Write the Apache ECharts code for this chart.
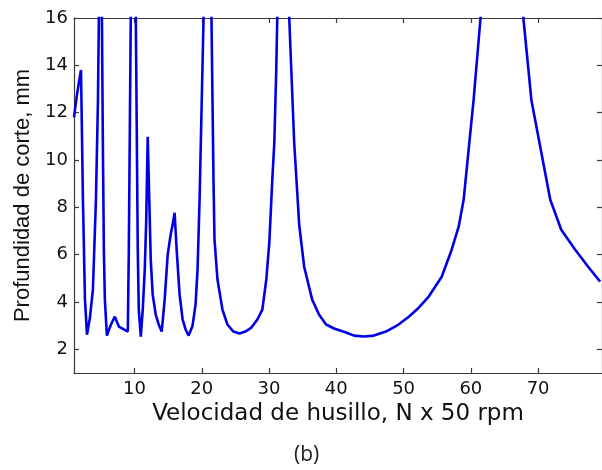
<!DOCTYPE html>
<html>
<head>
<meta charset="utf-8">
<script src="https://cdn.jsdelivr.net/npm/echarts@6/dist/echarts.min.js"></script>
<style>
  html, body { margin: 0; padding: 0; background: #fff; }
  #chart { width: 602px; height: 470px; }
</style>
</head>
<body>
<div id="chart"></div>
<script>
// velocidad de husillo (N x 50 rpm) y profundidad de corte (mm)
var speed = [1.0, 1.44, 1.74, 2.04, 2.33, 2.63, 2.93, 3.37, 3.81, 4.26, 4.56, 4.70, 4.93, 5.15, 5.30, 5.44, 5.59, 5.89,
  6.48, 7.07, 7.67, 8.41, 9.0, 9.15, 9.30, 9.44, 9.81, 10.19, 10.33, 10.48, 10.63, 10.93,
  11.22, 11.52, 11.74, 11.96, 12.19, 12.41, 12.70, 13.15, 13.59, 14.04,
  14.48, 14.93, 15.37, 15.67, 15.96, 16.26, 16.70, 17.15, 17.59, 18.04,
  18.63, 19.07, 19.37, 19.67, 19.96, 20.26, 20.93, 21.44, 21.59, 21.74, 21.89, 22.33, 23.07, 23.81,
  24.70, 25.59, 26.48, 27.37, 28.26, 29.00, 29.59, 30.04, 30.48, 30.78, 31.07, 31.22, 32.11, 33.00,
  33.74, 34.48, 35.22, 36.41, 37.44, 38.48, 39.67, 41.44, 42.63, 44.11, 45.59, 47.37, 49.0, 50.78,
  52.26, 53.74, 55.67, 57.15, 58.19, 58.93, 60.41, 61.44, 64.56, 67.81, 69.0, 71.81, 73.44, 75.52, 77.44, 79.22];
var depth = [11.8, 12.75, 13.3, 13.8, 8.3, 4.1, 2.62, 3.34, 4.52, 8.3, 12.5, 16, 24, 16, 10.4, 6.2, 4.1, 2.58,
  3.04, 3.38, 2.96, 2.84, 2.75, 6.2, 11.3, 16, 21, 16, 11.3, 6.2, 3.68, 2.54,
  3.68, 5.37, 7.48, 10.98, 8.32, 5.79, 4.31, 3.47, 3.05, 2.75,
  4.1, 6.0, 6.84, 7.27, 7.77, 6.21, 4.31, 3.26, 2.84, 2.58,
  3.0, 3.89, 5.37, 8.32, 12.1, 16, 25, 16, 12.54, 9.16, 6.63, 4.95, 3.68, 3.05,
  2.75, 2.67, 2.75, 2.92, 3.26, 3.68, 4.95, 6.51, 9.16, 10.72, 13.8, 16, 29, 16,
  10.72, 7.27, 5.49, 4.1, 3.46, 3.05, 2.88, 2.71, 2.58, 2.54, 2.58, 2.75, 3.0, 3.38,
  3.76, 4.23, 5.07, 6.21, 7.18, 8.32, 12.54, 16, 27, 16, 12.54, 8.32, 7.05, 6.21, 5.49, 4.86];

var xTicks = [10, 20, 30, 40, 50, 60, 70];
var yTicks = [2, 4, 6, 8, 10, 12, 14, 16];

var chart = echarts.init(document.getElementById('chart'), null, {renderer: 'canvas'});

var points = speed.map(function (s, i) { return [s, depth[i]]; });

var axisLineStyle = {color: '#3a3a3a', width: 1.2};
var tickStyle = {color: '#3a3a3a', width: 1.2};

var option = {
  animation: false,
  backgroundColor: '#ffffff',
  grid: {left: 74, top: 18, right: -1, bottom: 97},
  xAxis: [{
    type: 'value', min: 1, max: 79.5, position: 'bottom',
    name: 'Velocidad de husillo, N x 50 rpm', nameLocation: 'middle', nameGap: 21,
    nameTextStyle: {fontFamily: 'DejaVu Sans', fontSize: 23, color: '#111'},
    axisLine: {show: true, onZero: false, lineStyle: axisLineStyle},
    axisTick: {show: true, inside: true, length: 5, lineStyle: tickStyle, customValues: xTicks},
    axisLabel: {show: true, margin: 7, fontFamily: 'DejaVu Sans', fontSize: 18, color: '#111', customValues: xTicks},
    splitLine: {show: false}
  }, {
    type: 'value', min: 1, max: 79.5, position: 'top',
    axisLine: {show: true, onZero: false, lineStyle: axisLineStyle},
    axisTick: {show: true, inside: true, length: 5, lineStyle: tickStyle, customValues: xTicks},
    axisLabel: {show: false},
    splitLine: {show: false}
  }],
  yAxis: [{
    type: 'value', min: 1, max: 16, position: 'left',
    name: 'Profundidad de corte, mm', nameLocation: 'middle', nameGap: 40,
    nameTextStyle: {fontFamily: 'Liberation Sans', fontSize: 22, color: '#111'},
    axisLine: {show: true, onZero: false, lineStyle: axisLineStyle},
    axisTick: {show: true, inside: true, length: 5, lineStyle: tickStyle, customValues: yTicks},
    axisLabel: {show: true, margin: 6, fontFamily: 'DejaVu Sans', fontSize: 18, color: '#111', customValues: yTicks},
    splitLine: {show: false}
  }, {
    type: 'value', min: 1, max: 16, position: 'right',
    axisLine: {show: true, onZero: false, lineStyle: axisLineStyle},
    axisTick: {show: true, inside: true, length: 5, lineStyle: tickStyle, customValues: yTicks},
    axisLabel: {show: false},
    splitLine: {show: false}
  }],
  graphic: [{
    type: 'text', left: 294, top: 445,
    style: {text: '(b)', fontFamily: 'Open Sans', fontSize: 21, fill: '#222'}
  }],
  series: [{
    type: 'line',
    xAxisIndex: 0, yAxisIndex: 0,
    data: points,
    showSymbol: false,
    clip: true,
    lineStyle: {color: '#0000e6', width: 2.6},
    z: 3
  }]
};

chart.setOption(option);
</script>
</body>
</html>
